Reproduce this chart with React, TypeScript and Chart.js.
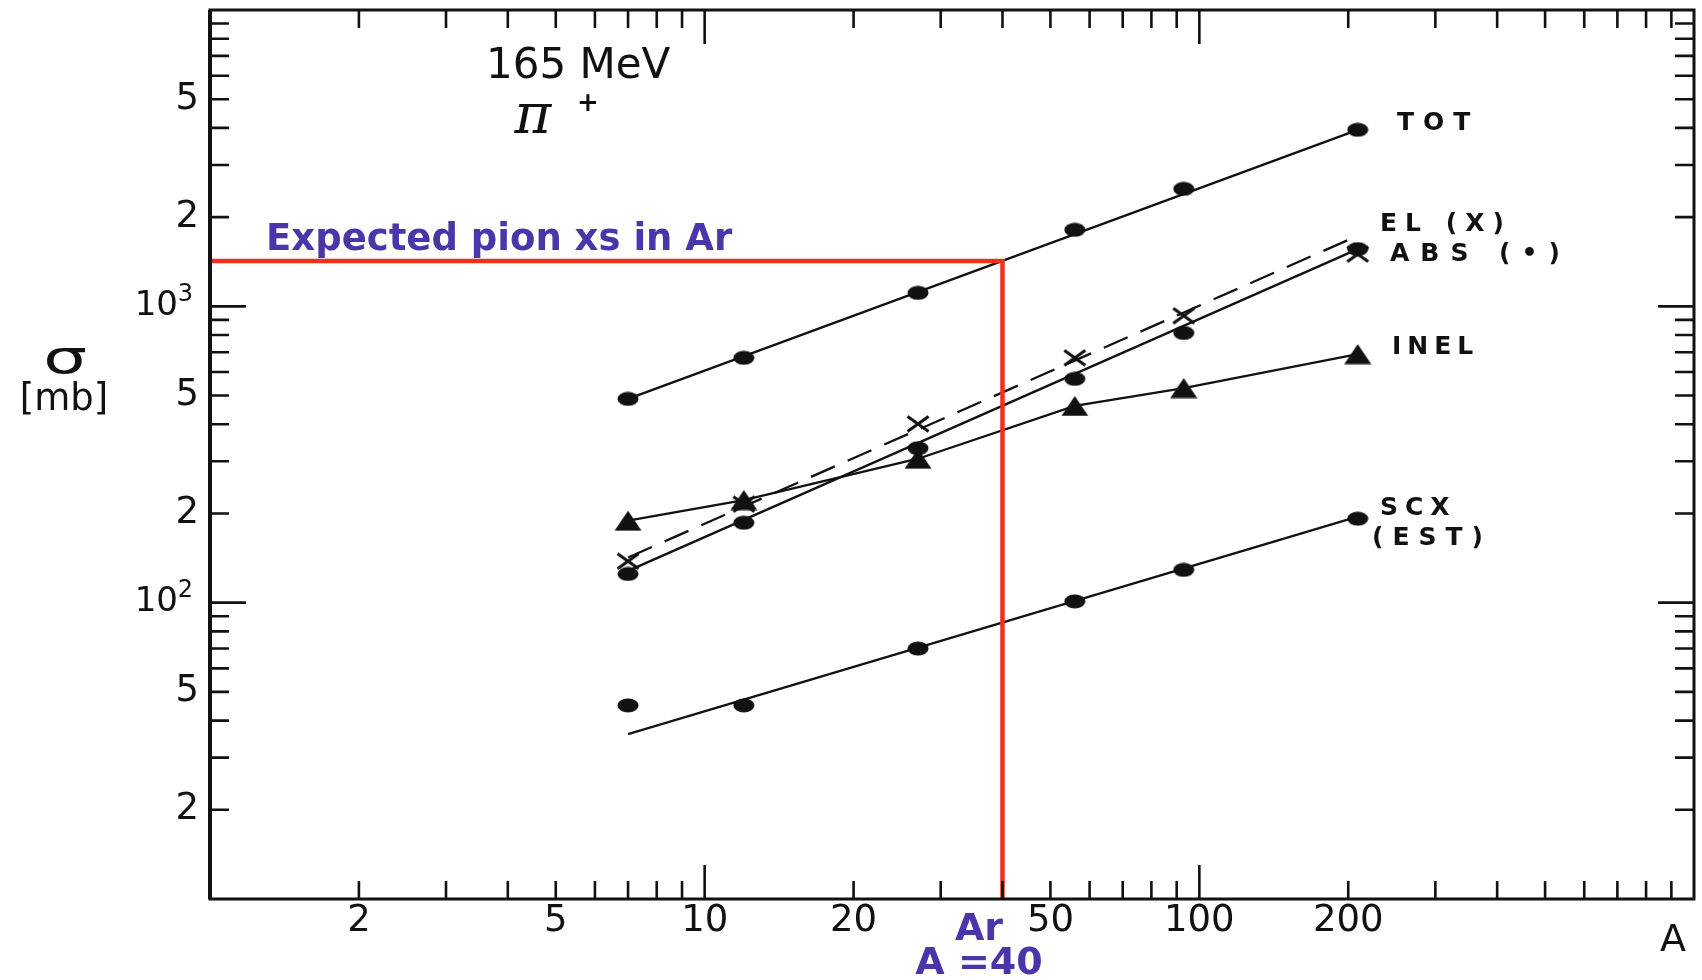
import React, { useEffect, useRef } from 'react';
import { Chart, registerables } from 'chart.js';

Chart.register(...registerables);

// Mass numbers of the targets (Li, C, Al, Fe, Nb, Bi)
const massNumbers = [7, 12, 27, 56, 93, 209];
// Cross sections in mb
const totSigma = [487, 670, 1110, 1812, 2490, 3940];
const elSigma = [138, 215, 401, 670, 929, 1500];
const absSigma = [125, 186, 332, 569, 813, 1560];
const inelSigma = [189, 222, 306, 461, 530, 690];
const scxSigma = [45, 45, 70, 101, 129, 192];

// Straight-line fits (log-log), end points
const fitRangeA = [7, 209];
const totFit = [487, 3940];
const elFit = [142, 1730];
const absFit = [128, 1560];
const scxFit = [36, 195];

// Argon reference (A = 40)
const arRefA = [1, 40, 40];
const arRefSigma = [1422, 1422, 10];

// Axis tick labels
const xTickValues = [2, 5, 10, 20, 50, 100, 200];
const xTickLabels = ['2', '5', '10', '20', '50', '100', '200'];
const yTickValues = [20, 50, 100, 200, 500, 1000, 2000, 5000];
const yTickLabels = ['2', '5', '10', '2', '5', '10', '2', '5'];
const yTickSups = ['', '', '2', '', '', '3', '', ''];

const INK = '#111';
const RED = '#e8341c';
const PURPLE = '#4a36a8';

function makeDot(w: number, h: number) {
  const c = document.createElement('canvas');
  c.width = w; c.height = h;
  const g = c.getContext('2d')!;
  g.fillStyle = INK;
  g.beginPath();
  g.ellipse(w / 2, h / 2, w / 2 - 0.5, h / 2 - 0.5, 0, 0, Math.PI * 2);
  g.fill();
  return c;
}
function makeTri(w: number, h: number) {
  const c = document.createElement('canvas');
  c.width = w; c.height = h;
  const g = c.getContext('2d')!;
  g.fillStyle = INK;
  g.beginPath();
  g.moveTo(w / 2, 0.5);
  g.lineTo(w - 0.5, h - 0.5);
  g.lineTo(0.5, h - 0.5);
  g.closePath();
  g.fill();
  return c;
}
function makeX(w: number, h: number, lw: number) {
  const c = document.createElement('canvas');
  c.width = w; c.height = h;
  const g = c.getContext('2d')!;
  g.strokeStyle = INK;
  g.lineWidth = lw;
  g.beginPath();
  g.moveTo(lw / 2, lw / 2); g.lineTo(w - lw / 2, h - lw / 2);
  g.moveTo(w - lw / 2, lw / 2); g.lineTo(lw / 2, h - lw / 2);
  g.stroke();
  return c;
}

function txt(ctx: CanvasRenderingContext2D, s: string, x: number, y: number, font: string, color: string, align: CanvasTextAlign = 'center', spacing = 0) {
  ctx.save();
  ctx.font = font;
  ctx.fillStyle = color;
  ctx.textAlign = align;
  ctx.textBaseline = 'middle';
  (ctx as any).letterSpacing = spacing + 'px';
  ctx.fillText(s, x, y);
  ctx.restore();
}

const decorPlugin = {
  id: 'decor',
  afterDatasetsDraw(chart: any) {
    const ctx: CanvasRenderingContext2D = chart.ctx;
    const a = chart.chartArea;
    const xs = chart.scales.x;
    const ys = chart.scales.y;
    ctx.save();
    // frame
    ctx.strokeStyle = INK;
    ctx.lineWidth = 3;
    ctx.strokeRect(a.left, a.top, a.right - a.left, a.bottom - a.top);
    ctx.lineWidth = 4;
    ctx.beginPath();
    ctx.moveTo(a.left, a.top); ctx.lineTo(a.left, a.bottom);
    ctx.stroke();
    // ticks
    ctx.lineWidth = 2.6;
    ctx.beginPath();
    for (const d of [1, 10, 100]) {
      for (let k = 1; k <= 9; k++) {
        const v = d * k;
        if (v === 1) continue;
        const px = xs.getPixelForValue(v);
        const len = k === 1 ? 34 : 18;
        ctx.moveTo(px, a.bottom); ctx.lineTo(px, a.bottom - len);
        ctx.moveTo(px, a.top); ctx.lineTo(px, a.top + len);
      }
    }
    for (const d of [10, 100, 1000]) {
      for (let k = 1; k <= 9; k++) {
        const v = d * k;
        if (v === 10) continue;
        const py = ys.getPixelForValue(v);
        const len = k === 1 ? 36 : 19;
        ctx.moveTo(a.left, py); ctx.lineTo(a.left + len, py);
        ctx.moveTo(a.right, py); ctx.lineTo(a.right - len, py);
      }
    }
    ctx.stroke();
    ctx.restore();

    const tickFont = '37px "DejaVu Sans"';
    xTickValues.forEach((v, i) => {
      txt(ctx, xTickLabels[i], xs.getPixelForValue(v), a.bottom + 22, tickFont, INK);
    });
    yTickValues.forEach((v, i) => {
      const py = ys.getPixelForValue(v);
      if (yTickSups[i]) {
        txt(ctx, yTickSups[i], 193, py - 12, '24px "DejaVu Sans"', INK, 'right');
        txt(ctx, yTickLabels[i], 178, py, '34px "DejaVu Sans"', INK, 'right');
      } else {
        txt(ctx, yTickLabels[i], 199, py, tickFont, INK, 'right');
      }
    });

    // axis titles
    txt(ctx, 'A', 1673, 941, '38px "DejaVu Sans"', INK);
    ctx.save();
    ctx.translate(65, 361);
    ctx.scale(1.5, 1);
    txt(ctx, 'σ', 0, 0, '46px "DejaVu Sans"', INK);
    ctx.restore();
    txt(ctx, '[mb]', 64, 400, '37px "DejaVu Sans"', INK);

    // header
    txt(ctx, '165 MeV', 486, 67, '42px "DejaVu Sans"', INK, 'left');
    txt(ctx, 'π', 533, 118, 'italic 56px "DejaVu Serif"', INK);
    txt(ctx, '+', 588, 104, 'bold 26px "DejaVu Sans"', INK);

    // series labels
    const lf = 'bold 25px "DejaVu Sans"';
    txt(ctx, 'TOT', 1397, 123, lf, INK, 'left', 9);
    txt(ctx, 'EL (X)', 1380, 224, lf, INK, 'left', 8);
    txt(ctx, 'ABS (•)', 1390, 254, lf, INK, 'left', 11);
    txt(ctx, 'INEL', 1392, 347, lf, INK, 'left', 6);
    txt(ctx, 'SCX', 1380, 508, lf, INK, 'left', 7);
    txt(ctx, '(EST)', 1372, 538, lf, INK, 'left', 9);

    // annotations
    txt(ctx, 'Expected pion xs in Ar', 266, 240, 'bold 37px "DejaVu Sans"', PURPLE, 'left');
    txt(ctx, 'Ar', 979, 930, 'bold 38px "DejaVu Sans"', PURPLE);
    txt(ctx, 'A =40', 979, 964, 'bold 38px "DejaVu Sans"', PURPLE);
  },
};

export default function App() {
  const ref = useRef<HTMLCanvasElement>(null);
  useEffect(() => {
    const canvas = ref.current!;
    const dot = makeDot(22, 15);
    const tri = makeTri(28, 21);
    const cross = makeX(24, 18, 3);
    const pts = (ys: number[]) => massNumbers.map((x, i) => ({ x, y: ys[i] }));
    const fit = (ys: number[]) => fitRangeA.map((x, i) => ({ x, y: ys[i] }));
    const lineDs = (label: string, data: any[], dash: number[] = []) => ({
      label, data, showLine: true, borderColor: INK, borderWidth: 2.3,
      borderDash: dash, pointRadius: 0, fill: false, tension: 0,
    });
    const markDs = (label: string, data: any[], style: any) => ({
      label, data, showLine: false, pointStyle: style, pointRadius: 6,
      pointBackgroundColor: INK, pointBorderColor: INK,
    });
    const chart = new Chart(canvas, {
      type: 'scatter',
      data: {
        datasets: [
          {
            label: 'Ar', data: arRefA.map((x, i) => ({ x, y: arRefSigma[i] })),
            showLine: true, borderColor: RED, borderWidth: 4.5, pointRadius: 0, tension: 0,
          } as any,
          markDs('TOT', pts(totSigma), dot),
          markDs('ABS', pts(absSigma), dot),
          markDs('EL', pts(elSigma), cross),
          markDs('INEL', pts(inelSigma), tri),
          markDs('SCX', pts(scxSigma), dot),
          lineDs('TOT fit', fit(totFit)),
          lineDs('EL fit', fit(elFit), [26, 14]),
          lineDs('ABS fit', fit(absFit)),
          lineDs('INEL line', pts(inelSigma)),
          lineDs('SCX fit', fit(scxFit)),
        ],
      },
      options: {
        animation: false,
        responsive: false,
        events: [],
        layout: { padding: { left: 210, top: 10, right: 8, bottom: 81 } },
        plugins: { legend: { display: false }, tooltip: { enabled: false } },
        scales: {
          x: { type: 'logarithmic', min: 1, max: 1000, display: false },
          y: { type: 'logarithmic', min: 10, max: 10000, display: false },
        },
      } as any,
      plugins: [decorPlugin],
    });
    return () => chart.destroy();
  }, []);
  return (
    <div style={{ position: 'absolute', left: 0, top: 0, width: 1702, height: 980, background: '#fff' }}>
      <canvas ref={ref} width={1702} height={980} style={{ display: 'block', width: 1702, height: 980 }} />
    </div>
  );
}
